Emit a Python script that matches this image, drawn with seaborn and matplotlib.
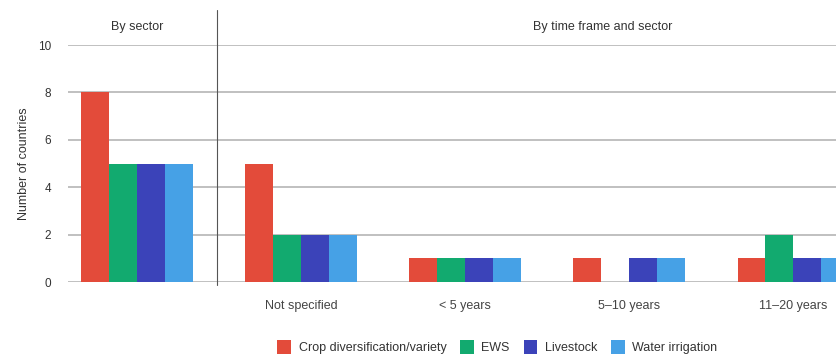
import numpy as np
import pandas as pd
import matplotlib
matplotlib.use("Agg")
import matplotlib.pyplot as plt
import matplotlib.transforms as mtransforms
import seaborn as sns

# data
groups = ["", "Not specified", "< 5 years", "5–10 years", "11–20 years"]
sectors = ["Crop diversification/variety", "EWS", "Livestock", "Water irrigation"]
crop = [8, 5, 1, 1, 1]
ews = [5, 2, 1, 0, 2]
livestock = [5, 2, 1, 1, 1]
water = [5, 2, 1, 1, 1]
colors = ["#E34B3A", "#12AA6F", "#3B43B9", "#46A1E6"]

rows = []
for s, vals in zip(sectors, [crop, ews, livestock, water]):
    for g, v in zip(groups, vals):
        rows.append({"group": g, "sector": s, "count": v})
df = pd.DataFrame(rows)

sns.set_style("white")
plt.rcParams["font.family"] = ["Liberation Sans", "DejaVu Sans"]

fig = plt.figure(figsize=(8.36, 3.63), dpi=100)
ax = fig.add_axes([0.0813, 0.223, 0.9187, 0.653])

sns.barplot(data=df, x="group", y="count", hue="sector", order=groups,
            hue_order=sectors, palette=colors, width=0.68, linewidth=0,
            saturation=1, ax=ax)

ax.set_ylim(0, 10)
ax.set_xlim(-0.42, 4.26)
ax.set_yticks(np.arange(0, 11, 2))
ax.yaxis.grid(True, color="#c0c0c0", linewidth=1.4)
ax.set_axisbelow(True)
for sp in ax.spines.values():
    sp.set_visible(False)
ax.tick_params(axis="y", length=0, pad=12, labelsize=8.5, labelcolor="#333333")
ax.tick_params(axis="x", length=0, pad=13, labelsize=9, labelcolor="#444444")
ax.set_xlabel("")
ax.set_ylabel("Number of countries", fontsize=9, color="#333333", labelpad=6)

# divider between the two panels
trans = mtransforms.blended_transform_factory(ax.transData, ax.transAxes)
ax.plot([0.49, 0.49], [-0.013, 1.148], transform=trans, color="#555555",
        linewidth=0.8, clip_on=False)
ax.text(0.0, 1.076, "By sector", transform=trans, ha="center", va="center",
        fontsize=9, color="#333333")
ax.text(2.84, 1.076, "By time frame and sector", transform=trans, ha="center",
        va="center", fontsize=9, color="#333333")

ax.legend(loc="center", bbox_to_anchor=(0.595, 0.044), bbox_transform=fig.transFigure,
          ncol=4, frameon=False, fontsize=9, handlelength=1.1, handleheight=1.3,
          handletextpad=0.6, columnspacing=1.1, labelcolor="#333333")

fig.savefig("out.png", dpi=100)
